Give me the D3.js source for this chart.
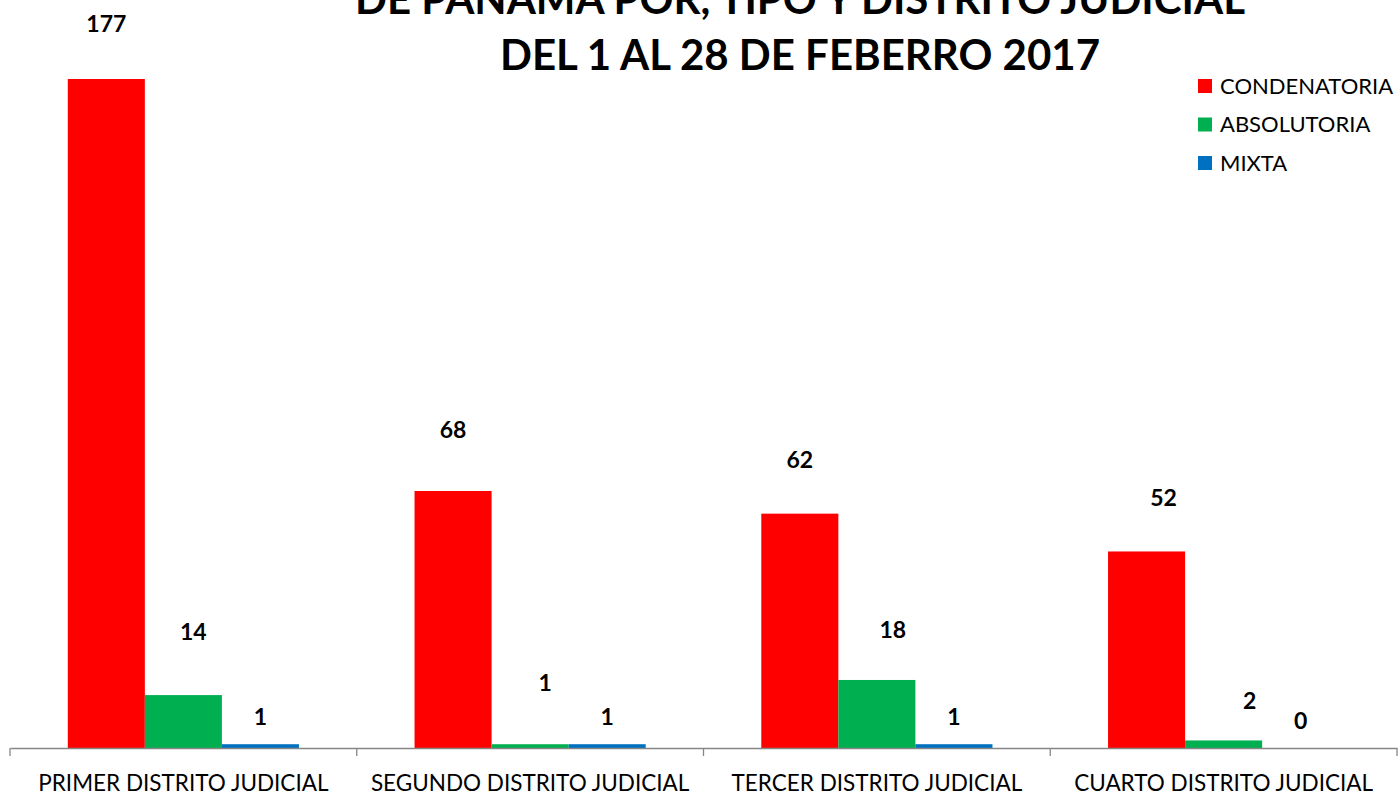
<!DOCTYPE html>
<html>
<head>
<meta charset="utf-8">
<script src="https://cdn.jsdelivr.net/npm/d3@7"></script>
<style>
  body { margin: 0; background: #fff; }
  text { font-family: Lato, "Open Sans", sans-serif; }
</style>
</head>
<body>
<div id="chart"></div>
<script>
// data
const categories = ["PRIMER DISTRITO JUDICIAL", "SEGUNDO DISTRITO JUDICIAL", "TERCER DISTRITO JUDICIAL", "CUARTO DISTRITO JUDICIAL"];
const seriesNames = ["CONDENATORIA", "ABSOLUTORIA", "MIXTA"];
const condenatoria = [177, 68, 62, 52];
const absolutoria = [14, 1, 18, 2];
const mixta = [1, 1, 1, 0];
const titleLines = ["DE PANAMA POR, TIPO Y DISTRITO JUDICIAL", "DEL 1 AL 28 DE FEBERRO 2017"];

// label nudges (dx, dy from bar top), as placed by hand in the original
const labelShift = [
    [[0, -55], [10, -63], [0, -27]],
    [[0, -61], [15, -61], [0, -27]],
    [[0, -54], [16, -50], [0, -27]],
    [[17, -54], [26, -39], [0, -27]]
];

const colors = ["#FF0000", "#00B050", "#0070C0"];
const values = [condenatoria, absolutoria, mixta];

const W = 1399, H = 796;
const margin = {top: 79, right: 2, bottom: 48, left: 10};
const width = W - margin.left - margin.right;
const height = H - margin.top - margin.bottom;

const svg = d3.select("#chart").append("svg")
    .attr("width", W)
    .attr("height", H);

const g = svg.append("g")
    .attr("transform", `translate(${margin.left},${margin.top})`);

const x0 = d3.scaleBand()
    .domain(categories)
    .range([0, width])
    .paddingInner(0)
    .paddingOuter(0);

const x1 = d3.scaleBand()
    .domain(seriesNames)
    .range([0, x0.bandwidth()])
    .paddingOuter(0.75)
    .paddingInner(0);

const y = d3.scaleLinear()
    .domain([0, 177])
    .range([height, 0]);

// bars
categories.forEach((cat, ci) => {
    seriesNames.forEach((s, si) => {
        const v = values[si][ci];
        g.append("rect")
            .attr("x", x0(cat) + x1(s))
            .attr("y", y(v))
            .attr("width", x1.bandwidth())
            .attr("height", height - y(v))
            .attr("fill", colors[si]);

        g.append("text")
            .attr("x", x0(cat) + x1(s) + x1.bandwidth() / 2 + labelShift[ci][si][0])
            .attr("y", y(v) + labelShift[ci][si][1])
            .attr("dy", "0.35em")
            .attr("text-anchor", "middle")
            .attr("font-size", 23)
            .attr("font-weight", "bold")
            .attr("fill", "#000")
            .text(v);
    });
});

// x axis
const xAxis = g.append("g")
    .attr("transform", `translate(0,${height})`)
    .call(d3.axisBottom(x0).tickSize(0).tickPadding(27));
xAxis.select(".domain").attr("stroke", "#868686").attr("stroke-width", 1.3);
xAxis.selectAll(".tick text")
    .attr("font-size", 22.5)
    .attr("fill", "#000")
    .style("font-family", "Lato, sans-serif");

// boundary ticks
const bounds = categories.map(c => x0(c)).concat([width]);
g.selectAll(".bound").data(bounds).join("line")
    .attr("x1", d => d).attr("x2", d => d)
    .attr("y1", height).attr("y2", height + 8)
    .attr("stroke", "#868686").attr("stroke-width", 1.3);

// title
svg.selectAll(".title").data(titleLines).join("text")
    .attr("x", 800)
    .attr("y", (d, i) => 14 + i * 56)
    .attr("text-anchor", "middle")
    .attr("font-size", 42)
    .attr("font-weight", "bold")
    .attr("fill", "#000")
    .text(d => d);

// legend
const legend = svg.append("g").attr("transform", "translate(1198,86)");
seriesNames.forEach((s, i) => {
    legend.append("rect")
        .attr("x", 0).attr("y", i * 38.5 - 7)
        .attr("width", 14).attr("height", 14)
        .attr("fill", colors[i]);
    legend.append("text")
        .attr("x", 22).attr("y", i * 38.5)
        .attr("dy", "0.35em")
        .attr("font-size", 22)
        .attr("fill", "#000")
        .text(s);
});
</script>
</body>
</html>
